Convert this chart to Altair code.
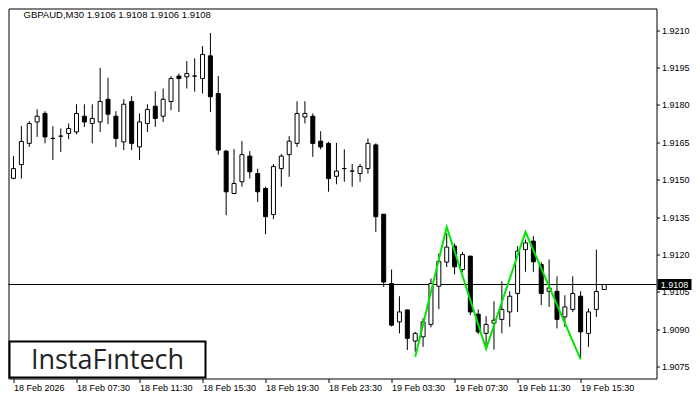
import json
import altair as alt
import pandas as pd

symbol_header = "GBPAUD,M30  1.9106 1.9108 1.9106 1.9108"
brand = "InstaFıntech"

opens = [1.91506, 1.91561, 1.91646, 1.91732, 1.91766, 1.91666, 1.91675, 1.91686, 1.91692, 1.91755,
         1.91726, 1.91732, 1.91823, 1.91755, 1.91652, 1.91814, 1.91632, 1.91726, 1.91795, 1.91755,
         1.91814, 1.91916, 1.91913, 1.91916, 1.91906, 1.91997, 1.91846, 1.91615, 1.91445, 1.91492,
         1.91595, 1.91525, 1.91465, 1.91361, 1.91545, 1.91601, 1.91646, 1.91752, 1.91755, 1.91655,
         1.91646, 1.91514, 1.91545, 1.91535, 1.91525, 1.91545, 1.91640, 1.91362, 1.91084, 1.90930,
         1.90978, 1.90853, 1.90870, 1.90920, 1.91073, 1.91170, 1.91234, 1.91140, 1.91194, 1.90961,
         1.90884, 1.90925, 1.90940, 1.90970, 1.91044, 1.91220, 1.91254, 1.91160, 1.91053, 1.91053,
         1.90950, 1.90980, 1.91033, 1.90884, 1.90980, 1.91060]
highs = [1.91595, 1.91716, 1.91735, 1.91783, 1.91775, 1.91715, 1.91706, 1.91726, 1.91803, 1.91803,
         1.91803, 1.91949, 1.91909, 1.91775, 1.91823, 1.91835, 1.91766, 1.91803, 1.91855, 1.91866,
         1.91916, 1.91926, 1.91976, 1.91987, 1.92036, 1.92089, 1.91916, 1.91619, 1.91623, 1.91655,
         1.91615, 1.91545, 1.91472, 1.91563, 1.91603, 1.91675, 1.91815, 1.91815, 1.91766, 1.91695,
         1.91652, 1.91648, 1.91622, 1.91563, 1.91563, 1.91666, 1.91646, 1.91362, 1.91140, 1.91033,
         1.90980, 1.90890, 1.90945, 1.91104, 1.91204, 1.91286, 1.91245, 1.91211, 1.91194, 1.90980,
         1.90953, 1.91013, 1.91093, 1.91053, 1.91234, 1.91261, 1.91274, 1.91170, 1.91180, 1.91113,
         1.91037, 1.91113, 1.91053, 1.90984, 1.91220, 1.91080]
lows = [1.91502, 1.91505, 1.91632, 1.91672, 1.91646, 1.91579, 1.91612, 1.91663, 1.91683, 1.91712,
        1.91646, 1.91692, 1.91723, 1.91632, 1.91619, 1.91619, 1.91579, 1.91692, 1.91712, 1.91732,
        1.91779, 1.91772, 1.91866, 1.91853, 1.91846, 1.91772, 1.91601, 1.91358, 1.91442, 1.91472,
        1.91505, 1.91411, 1.91282, 1.91342, 1.91472, 1.91512, 1.91632, 1.91726, 1.91592, 1.91622,
        1.91452, 1.91482, 1.91492, 1.91472, 1.91492, 1.91525, 1.91291, 1.91070, 1.90912, 1.90884,
        1.90817, 1.90810, 1.90830, 1.90908, 1.90981, 1.91150, 1.91121, 1.91131, 1.90957, 1.90881,
        1.90827, 1.90819, 1.90884, 1.90910, 1.90970, 1.91131, 1.91131, 1.90997, 1.90990, 1.90904,
        1.90910, 1.90970, 1.90785, 1.90830, 1.90950, 1.91060]
closes = [1.91545, 1.91654, 1.91726, 1.91755, 1.91672, 1.91666, 1.91675, 1.91706, 1.91766, 1.91732,
          1.91746, 1.91814, 1.91763, 1.91666, 1.91803, 1.91646, 1.91732, 1.91782, 1.91746, 1.91823,
          1.91906, 1.91906, 1.91926, 1.91916, 1.92003, 1.91833, 1.91619, 1.91452, 1.91485, 1.91601,
          1.91532, 1.91452, 1.91352, 1.91553, 1.91595, 1.91655, 1.91766, 1.91766, 1.91646, 1.91632,
          1.91505, 1.91535, 1.91545, 1.91535, 1.91553, 1.91646, 1.91352, 1.91090, 1.90917, 1.90970,
          1.90864, 1.90884, 1.90930, 1.91084, 1.91173, 1.91230, 1.91151, 1.91200, 1.90970, 1.90890,
          1.90920, 1.90937, 1.90980, 1.91033, 1.91214, 1.91247, 1.91171, 1.91044, 1.91066, 1.90940,
          1.90990, 1.91044, 1.90890, 1.90970, 1.91052, 1.91080]

x_tick_positions = [0, 8, 16, 24, 32, 40, 48, 56, 64, 72]
x_tick_labels = ["18 Feb 2026", "18 Feb 07:30", "18 Feb 11:30", "18 Feb 15:30", "18 Feb 19:30",
                 "18 Feb 23:30", "19 Feb 03:30", "19 Feb 07:30", "19 Feb 11:30", "19 Feb 15:30"]
y_tick_values = [1.9075, 1.9090, 1.9105, 1.9120, 1.9135, 1.9150, 1.9165, 1.9180, 1.9195, 1.9210]

pattern_bars = [51, 55, 60, 65, 72]
pattern_prices = [1.90790, 1.91311, 1.90822, 1.91291, 1.90780]

current_price = 1.9108
current_label = "1.9108"

candles = pd.DataFrame({
    "i": list(range(len(opens))),
    "open": opens, "high": highs, "low": lows, "close": closes,
})
pattern = pd.DataFrame({"i": pattern_bars, "p": pattern_prices})
price_df = pd.DataFrame({"p": [current_price], "t": [current_label]})
brand_df = pd.DataFrame({"t": [brand]})
header_df = pd.DataFrame({"t": [symbol_header]})

xs = alt.Scale(domain=[0, 81], nice=False, zero=False)
ys = alt.Scale(domain=[1.90703, 1.92187], nice=False, zero=False)

label_expr = f"{json.dumps(x_tick_labels)}[indexof({json.dumps(x_tick_positions)}, datum.value)]"

x_axis = alt.Axis(values=x_tick_positions, labelExpr=label_expr, labelAlign="left",
                  labelBaseline="top", labelPadding=1, tickSize=4, tickColor="black",
                  tickWidth=1, domain=False, grid=False, labelFont="Liberation Sans",
                  labelFontSize=9, labelColor="black", title=None, labelOverlap=False,
                  labelFlush=False, labelBound=False, labelLimit=200)
y_axis = alt.Axis(orient="right", values=y_tick_values, format=".4f", tickSize=3,
                  tickColor="black", tickWidth=1, labelPadding=2, domain=False, grid=False,
                  labelFont="Liberation Sans", labelFontSize=9, labelColor="black",
                  title=None, labelOverlap=False, labelFlush=False, labelBound=False)

wicks = alt.Chart(candles).mark_rule(color="black", strokeWidth=1, clip=True).encode(
    x=alt.X("i:Q", scale=xs, axis=x_axis),
    y=alt.Y("low:Q", scale=ys, axis=y_axis),
    y2="high:Q",
)

price_line = alt.Chart(price_df).mark_rule(color="black", strokeWidth=1).encode(
    y=alt.Y("p:Q", scale=ys, title=None)
)

bodies = alt.Chart(candles).mark_bar(size=4, stroke="black", strokeWidth=1, clip=True).encode(
    x=alt.X("i:Q", scale=xs, title=None),
    y=alt.Y("open:Q", scale=ys, title=None),
    y2="close:Q",
    fill=alt.condition("datum.close >= datum.open", alt.value("white"), alt.value("black")),
)

zigzag = alt.Chart(pattern).mark_line(color="#00e600", strokeWidth=2, clip=True).encode(
    x=alt.X("i:Q", scale=xs, title=None),
    y=alt.Y("p:Q", scale=ys, title=None),
)

brand_box = alt.Chart(brand_df).mark_rect(fill="white", stroke="black", strokeWidth=2).encode(
    x=alt.value(1), x2=alt.value(197), y=alt.value(333), y2=alt.value(369)
)
brand_text = alt.Chart(brand_df).mark_text(
    font="Open Sans", fontSize=27, color="#222222", align="center", baseline="alphabetic"
).encode(x=alt.value(99), y=alt.value(360.5), text="t:N")

header = alt.Chart(header_df).mark_text(
    font="Liberation Sans", fontSize=9.5, color="black", align="left", baseline="middle"
).encode(x=alt.value(15), y=alt.value(6), text="t:N")

tag = alt.Chart(price_df).mark_tick(orient="horizontal", size=34, thickness=11,
                                     color="black", opacity=1).encode(
    x=alt.value(666), y=alt.Y("p:Q", scale=ys, title=None)
)
tag_text = alt.Chart(price_df).mark_text(
    font="Liberation Sans", fontSize=9, color="white", align="center", baseline="middle"
).encode(x=alt.value(666), y=alt.Y("p:Q", scale=ys, title=None), text="t:N")

chart = alt.layer(
    wicks, price_line, bodies, zigzag, brand_box, brand_text, header, tag, tag_text
).properties(
    width=648, height=370,
    autosize=alt.AutoSizeParams(type="none"),
    padding={"left": 0.5, "top": 0.5, "right": 35.5, "bottom": 13.5},
    background="white",
).configure_view(stroke="black", strokeWidth=1)

chart.save("out.html", embed_options={"renderer": "svg", "actions": False})
